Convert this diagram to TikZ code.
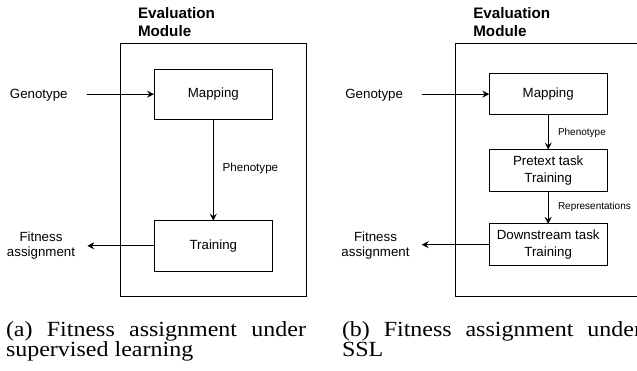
\documentclass[tikz,border=0pt]{standalone}
\usepackage{graphicx}
\usepackage{fontspec}
\setmainfont{Liberation Sans}
\newfontfamily\capfont{Liberation Serif}
\usetikzlibrary{arrows.meta}
\begin{document}
\begin{tikzpicture}[x=1pt,y=-1pt,
  every node/.style={inner sep=0pt, outer sep=0pt},
  blk/.style={draw, line width=1pt, minimum width=118.7pt, minimum height=50.3pt,
    font=\fontsize{13.3}{16.7}\selectfont, align=center},
  sblk/.style={blk, minimum width=117.8pt, minimum height=41.5pt},
  frame/.style={draw, line width=1pt},
  lbl/.style={font=\fontsize{13.3}{15.6}\selectfont, align=center},
  elbl/.style={font=\fontsize{#1}{#1}\selectfont, anchor=west},
  arr/.style={line width=1pt, -{Stealth[length=7pt,width=7pt,inset=2.5pt]}},
  ttl/.style={anchor=base west, font=\fontsize{15.2}{18.3}\selectfont\bfseries},
  subcap/.style={anchor=base west},
]
\useasboundingbox (0,0) rectangle (637,370);
\clip (0,0) rectangle (637,370);

% ---------- panel (a) ----------
\node[ttl] (ttlA) at (138,18.3) {\parbox[t]{100pt}{Evaluation\\Module}};
\node[frame, minimum width=185.3pt, minimum height=252.7pt] (outerA) at (213.35,169.65) {};
\node[blk] (mapA) at (213.35,94.15) {Mapping};
\node[blk] (trainA) at (213.35,245.85) {Training};
\node[lbl, anchor=base] (genoA) at (38.8,98.8) {Genotype};
\node[lbl] (fitA) at (41,245.5) {Fitness\\assignment};
\node[elbl=11.6] (phA) at (222.7,168) {Phenotype};
\coordinate (gA) at (86.7,94.15);
\coordinate (fA) at (87.3,245.85);
\draw[arr] (gA) -- (mapA.west);
\draw[arr] (mapA.south) -- (trainA.north);
\draw[arr] (trainA.west) -- (fA);

% ---------- panel (b) ----------
\node[ttl] (ttlB) at (473.3,18.3) {\parbox[t]{100pt}{Evaluation\\Module}};
\node[frame, minimum width=224.7pt, minimum height=252.7pt] (outerB) at (567.65,169.65) {};
\node[sblk] (mapB) at (548.2,94.15) {Mapping};
\node[sblk] (preB) at (548.2,170.35) {Pretext task\\Training};
\node[sblk] (downB) at (548.2,244.65) {Downstream task\\Training};
\node[lbl, anchor=base] (genoB) at (374.2,98.8) {Genotype};
\node[lbl] (fitB) at (375.5,245.5) {Fitness\\assignment};
\node[elbl=10] (phB) at (558,132.5) {Phenotype};
\node[elbl=10] (repB) at (558,207.35) {Representations};
\coordinate (gB) at (421.7,94.15);
\coordinate (fB) at (421.7,244.65);
\draw[arr] (gB) -- (mapB.west);
\draw[arr] (mapB.south) -- (preB.north);
\draw[arr] (preB.south) -- (downB.north);
\draw[arr] (downB.west) -- (fB);

% ---------- captions ----------
\node[subcap] (capA) at (6,336) {\scalebox{1}[0.9]{\parbox[t]{300pt}{\capfont\fontsize{24}{23.3}\selectfont (a) Fitness assignment under\linebreak supervised learning}}};
\node[subcap] (capB) at (342,336) {\scalebox{1}[0.9]{\parbox[t]{300pt}{\capfont\fontsize{24}{23.3}\selectfont (b) Fitness assignment under\linebreak SSL}}};
\end{tikzpicture}
\end{document}
